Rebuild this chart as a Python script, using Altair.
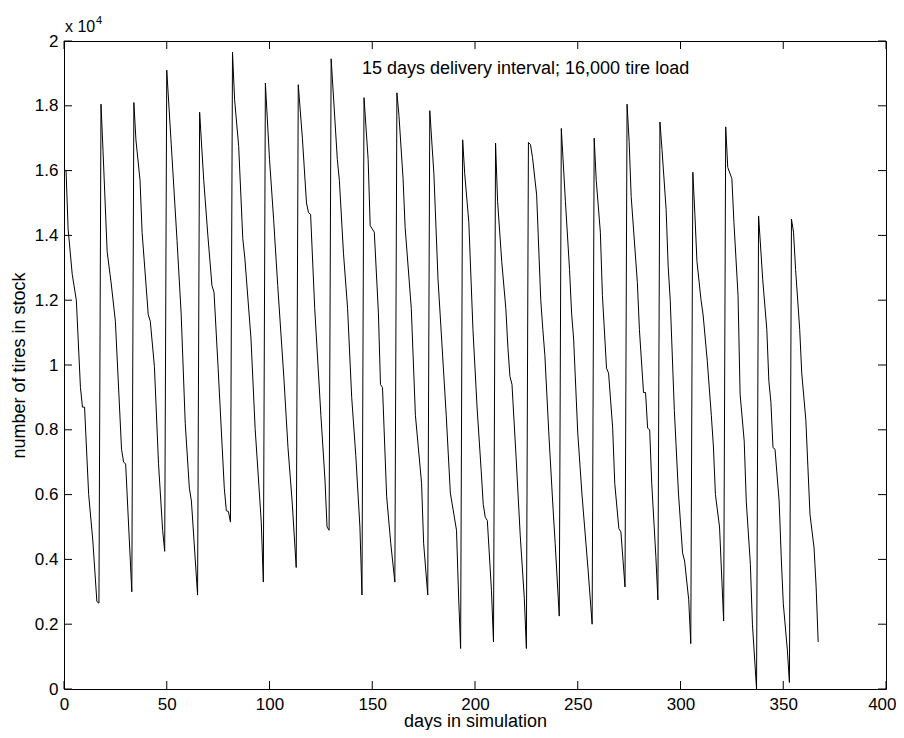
import altair as alt
import pandas as pd

# vertices of the stock curve (day, tires in stock)
day = [1, 2, 4, 6, 8, 9, 10, 12, 14, 16, 17,
       18, 19, 21, 23, 25, 28, 29, 30, 33,
       34, 35, 37, 38, 41, 42, 44, 46, 48, 49,
       50, 52, 55, 57, 59, 61, 62, 65,
       66, 68, 70, 72, 73, 75, 78, 79, 80, 81,
       82, 83, 85, 87, 88, 91, 93, 96, 97,
       98, 100, 102, 104, 107, 109, 111, 113,
       114, 116, 118, 119, 120, 122, 125, 127, 128, 129,
       130, 133, 134, 136, 138, 140, 142, 144, 145,
       146, 148, 149, 151, 153, 154, 155, 157, 159, 161,
       162, 163, 165, 166, 169, 171, 174, 175, 177,
       178, 180, 182, 183, 186, 188, 191, 192, 193,
       194, 195, 197, 199, 201, 203, 204, 205, 206, 208, 209,
       210, 211, 213, 215, 216, 217, 218, 220, 222, 224, 225,
       226, 227, 228, 230, 232, 233, 234, 236, 238, 239, 241,
       242, 244, 246, 247, 248, 250, 252, 255, 257,
       258, 259, 261, 262, 264, 265, 267, 268, 270, 271, 273,
       274, 275, 276, 279, 280, 282, 283, 284, 285, 286, 288, 289,
       290, 291, 293, 294, 295, 297, 299, 301, 302, 304, 305,
       306, 307, 308, 310, 311, 313, 315, 316, 317, 319, 321,
       322, 323, 325, 326, 328, 329, 331, 332, 334, 335, 337,
       338, 340, 342, 343, 344, 345, 346, 348, 349, 350, 352, 353,
       354, 355, 356, 358, 359, 361, 363, 365, 366, 367]

stock = [16000, 14200, 12800, 12000, 9300, 8700, 8700, 6000, 4600, 2700, 2650,
         18050, 16600, 13500, 12500, 11350, 7400, 7000, 6950, 3000,
         18100, 16950, 15700, 14100, 11550, 11350, 9950, 6950, 4900, 4250,
         19100, 17000, 13850, 11600, 8200, 6200, 5800, 2900,
         17800, 15700, 14000, 12450, 12250, 9900, 6200, 5500, 5480, 5150,
         19650, 18200, 16750, 13900, 13300, 10800, 8050, 5150, 3300,
         18700, 16350, 14500, 12450, 9600, 7450, 5800, 3750,
         18650, 17000, 15000, 14700, 14650, 11750, 8450, 6450, 5000, 4900,
         19450, 16350, 15700, 13450, 11750, 9000, 7200, 5000, 2900,
         18250, 16350, 14300, 14100, 11600, 9400, 9300, 5950, 4500, 3300,
         18400, 17700, 15750, 14250, 11750, 8450, 6350, 4500, 2900,
         17850, 15900, 12650, 11600, 8450, 6050, 4900, 2900, 1250,
         16950, 15900, 14400, 11100, 8700, 6750, 5700, 5300, 5200, 3050, 1450,
         16850, 15050, 13200, 11750, 10550, 9650, 9400, 7150, 4750, 2800, 1250,
         16870, 16800, 16400, 15250, 12000, 11100, 10300, 7800, 5550, 4500, 2250,
         17300, 15050, 12950, 11600, 10800, 7900, 6050, 3700, 2000,
         17000, 15700, 14100, 12150, 9900, 9750, 8050, 6350, 4950, 4850, 3150,
         18050, 16900, 15200, 12550, 11100, 9150, 9150, 8050, 8000, 6350, 4100, 2750,
         17500, 16650, 14800, 13050, 12000, 8600, 6050, 4200, 3950, 2750, 1400,
         15950, 14650, 13200, 12000, 11550, 10150, 8450, 7500, 6000, 5000, 2100,
         17350, 16100, 15750, 14400, 12150, 9100, 7650, 5800, 3850, 2000, 0,
         14600, 12650, 11100, 9500, 8850, 7450, 7400, 5800, 4100, 2650, 1200, 200,
         14500, 14100, 12950, 11100, 9750, 8300, 5400, 4350, 3150, 1450]

x_ticks = [0, 50, 100, 150, 200, 250, 300, 350, 400]
y_ticks = [0, 2000, 4000, 6000, 8000, 10000, 12000, 14000, 16000, 18000, 20000]

note_text = ["15 days delivery interval; 16,000 tire load"]
note_day = [145]
note_stock = [19150]

W, H = 822, 648
FONT = "Liberation Sans"
TL = 8  # tick length

df = pd.DataFrame({"day": day, "stock": stock})
xt = pd.DataFrame({"day": x_ticks})
yt = pd.DataFrame({"stock": y_ticks})
note = pd.DataFrame({"day": note_day, "stock": note_stock, "txt": note_text})

xscale = alt.Scale(domain=[0, 400], nice=False, zero=False)
yscale = alt.Scale(domain=[0, 20000], nice=False)

xaxis = alt.Axis(values=x_ticks, title="days in simulation", ticks=False, domain=False,
                 grid=False, labelPadding=7, labelFlush=False,
                 labelAlign=alt.expr("datum.value == 400 ? 'right' : 'center'"),
                 labelOffset=alt.expr("datum.value == 400 ? 10 : 0"),
                 titleBaseline="alphabetic", titleY=37)
yaxis = alt.Axis(values=y_ticks, title="number of tires in stock", ticks=False, domain=False,
                 grid=False, labelPadding=6, titlePadding=6,
                 labelExpr="datum.value / 10000")

X = alt.X("day:Q", scale=xscale, axis=xaxis)
Y = alt.Y("stock:Q", scale=yscale, axis=yaxis)

line = alt.Chart(df).mark_line(color="black", strokeWidth=1).encode(x=X, y=Y)

rule_kw = dict(color="black", strokeWidth=1)
xt_bottom = alt.Chart(xt).mark_rule(**rule_kw).encode(
    x=X, y=alt.value(H), y2=alt.value(H - TL))
xt_top = alt.Chart(xt).mark_rule(**rule_kw).encode(
    x=X, y=alt.value(0), y2=alt.value(TL))
yt_left = alt.Chart(yt).mark_rule(**rule_kw).encode(
    y=Y, x=alt.value(0), x2=alt.value(TL))
yt_right = alt.Chart(yt).mark_rule(**rule_kw).encode(
    y=Y, x=alt.value(W - TL), x2=alt.value(W))

annot = alt.Chart(note).mark_text(align="left", baseline="middle", font=FONT,
                                  fontSize=18, color="black").encode(
    x=X, y=Y, text="txt:N",
)

exp_base = alt.Chart(pd.DataFrame({"s": ["x 10"]})).mark_text(
    align="left", baseline="alphabetic", font=FONT, fontSize=16, color="black").encode(
    x=alt.value(1), y=alt.value(-9), text="s:N")
exp_pow = alt.Chart(pd.DataFrame({"s": ["4"]})).mark_text(
    align="left", baseline="alphabetic", font=FONT, fontSize=11, color="black").encode(
    x=alt.value(32), y=alt.value(-17), text="s:N")

chart = alt.layer(line, xt_bottom, xt_top, yt_left, yt_right, annot, exp_base, exp_pow).properties(
    width=W, height=H,
    autosize=alt.AutoSizeParams(type="none"),
    padding={"left": 56, "top": 33, "right": 10, "bottom": 41},
    background="white",
).configure_view(
    stroke="black", strokeWidth=1
).configure_axis(
    labelFont=FONT, titleFont=FONT, labelFontSize=17, titleFontSize=18,
    labelColor="black", titleColor="black", titleFontWeight="normal",
)

chart.save("out.html", embed_options={"renderer": "svg", "actions": False})
